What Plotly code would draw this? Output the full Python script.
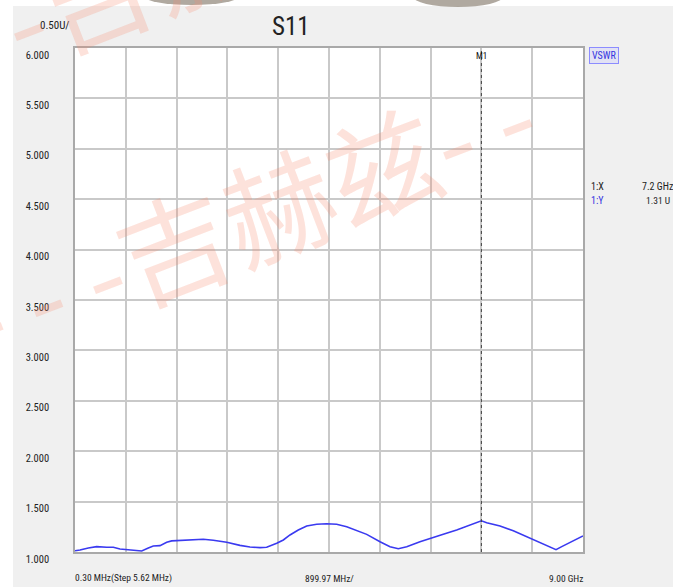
import plotly.graph_objects as go

# Sweep readings: frequency (GHz) and VSWR
freq_ghz = [0.0003, 0.089, 0.236, 0.384, 0.562, 0.679, 0.797, 0.916, 1.063, 1.182,
            1.299, 1.387, 1.506, 1.625, 1.713, 1.919, 2.096, 2.273, 2.450, 2.688,
            2.923, 3.100, 3.277, 3.396, 3.574, 3.691, 3.809, 3.956, 4.105, 4.282,
            4.459, 4.636, 4.814, 5.019, 5.168, 5.404, 5.581, 5.728, 5.877, 6.112,
            6.320, 6.525, 6.762, 6.998, 7.200, 7.294, 7.530, 7.765, 8.003, 8.238,
            8.416, 8.522, 8.623, 8.770, 8.889, 9.000]
vswr = [1.013, 1.020, 1.040, 1.053, 1.047, 1.047, 1.030, 1.023, 1.010, 1.010,
        1.040, 1.060, 1.063, 1.096, 1.110, 1.116, 1.122, 1.126, 1.116, 1.096,
        1.066, 1.050, 1.043, 1.047, 1.086, 1.119, 1.169, 1.218, 1.258, 1.275,
        1.281, 1.275, 1.251, 1.211, 1.175, 1.102, 1.053, 1.033, 1.053, 1.102,
        1.142, 1.175, 1.218, 1.268, 1.310, 1.291, 1.258, 1.211, 1.152, 1.092,
        1.043, 1.023, 1.053, 1.092, 1.126, 1.159]

start_ghz = 0.0003
stop_ghz = 9.0
step_ghz = 0.89997          # 899.97 MHz per division
n_div = 10
y_ticks = [1.0, 1.5, 2.0, 2.5, 3.0, 3.5, 4.0, 4.5, 5.0, 5.5, 6.0]

marker_freq = 7.2
marker_val = 1.31

W, H = 673, 587
narrow = "Roboto Condensed, Liberation Sans Narrow, Liberation Sans, Arial"

fig = go.Figure()
fig.add_trace(go.Scatter(x=freq_ghz, y=vswr, mode="lines",
                         line=dict(color="#3a3af0", width=1.6),
                         hoverinfo="x+y", showlegend=False))

fig.update_layout(
    width=W, height=H, autosize=False,
    margin=dict(l=0, r=0, t=0, b=0),
    paper_bgcolor="#f0f0f0", plot_bgcolor="#ffffff",
    showlegend=False,
    xaxis=dict(domain=[75 / W, 583 / W], range=[start_ghz, stop_ghz],
               tickvals=[start_ghz + i * step_ghz for i in range(n_div + 1)],
               showticklabels=False, ticks="", automargin=False,
               showgrid=True, gridcolor="#c9c9c9", gridwidth=1.5,
               zeroline=False, showline=True, mirror=True,
               linecolor="#a9a9a9", linewidth=1.5),
    yaxis=dict(domain=[35 / H, 539 / H], range=[1, 6], automargin=False,
               tickvals=y_ticks, tickformat=".3f", ticks="",
               ticklabelstandoff=22, ticklabelshift=7,
               tickfont=dict(family=narrow, size=10.5, color="#222"),
               showgrid=True, gridcolor="#c9c9c9", gridwidth=1.5,
               zeroline=False, showline=True, mirror=True,
               linecolor="#a9a9a9", linewidth=1.5),
)

shapes = [
    # white margins around the instrument panel
    dict(type="rect", xref="paper", yref="paper", x0=0, x1=13 / W, y0=0, y1=1,
         fillcolor="white", line=dict(width=0), layer="below"),
    dict(type="rect", xref="paper", yref="paper", x0=0, x1=1, y0=1 - 6 / H, y1=1,
         fillcolor="white", line=dict(width=0), layer="below"),
    # out-of-focus objects along the top edge
    dict(type="circle", xref="paper", yref="paper", x0=143 / W, x1=240 / W,
         y0=1 - 5 / H, y1=1 + 14 / H, fillcolor="rgba(150,140,128,0.75)",
         line=dict(width=0)),
    dict(type="circle", xref="paper", yref="paper", x0=413 / W, x1=503 / W,
         y0=1 - 7 / H, y1=1 + 14 / H, fillcolor="rgba(150,140,128,0.75)",
         line=dict(width=0)),
    # marker M1
    dict(type="line", xref="x", yref="y domain", x0=marker_freq, x1=marker_freq,
         y0=0, y1=1, line=dict(color="#444", width=1, dash="dot")),
]
fig.update_layout(shapes=shapes)

def txt(x, y, s, size=11, color="#222", anchor="left", family=narrow, **kw):
    fig.add_annotation(x=x / W, y=1 - y / H, xref="paper", yref="paper",
                       text=s, showarrow=False, xanchor=anchor, yanchor="middle",
                       font=dict(family=family, size=size, color=color), **kw)

txt(291, 26, "S11", size=25, anchor="center")
txt(38, 25, "0.50U/", size=11)
txt(73, 578, "0.30 MHz(Step 5.62 MHz)", size=9.5)
txt(329, 578, "899.97 MHz/", size=9.5, anchor="center")
txt(585, 578, "9.00 GHz", size=9.5, anchor="right")
txt(589, 56, "VSWR", size=10, color="#3434e0", bgcolor="#e2e2f4",
    bordercolor="#8c8cff", borderwidth=1, borderpad=2)
txt(589, 186, "1:X", size=10)
txt(675, 186, f"{marker_freq} GHz", size=10, anchor="right")
txt(589, 201, "1:Y", size=10, color="#3434e0")
txt(644, 201, f"{marker_val} U", size=9.5)

fig.add_annotation(x=marker_freq, y=1, xref="x", yref="y domain",
                   text="M1", showarrow=False, yanchor="top", yshift=-1,
                   font=dict(family=narrow, size=9, color="#111"))

# watermark, repeated diagonally
for cx, cy in [(247, 213), (168, -40)]:
    fig.add_annotation(x=cx / W, y=1 - cy / H, xref="paper", yref="paper",
                       text="- - -吉赫兹- -", showarrow=False, textangle=-21,
                       xanchor="center", yanchor="middle",
                       font=dict(family="Noto Sans CJK SC", size=112,
                                 color="rgba(246,140,110,0.25)"))

fig.write_html("out.html")
